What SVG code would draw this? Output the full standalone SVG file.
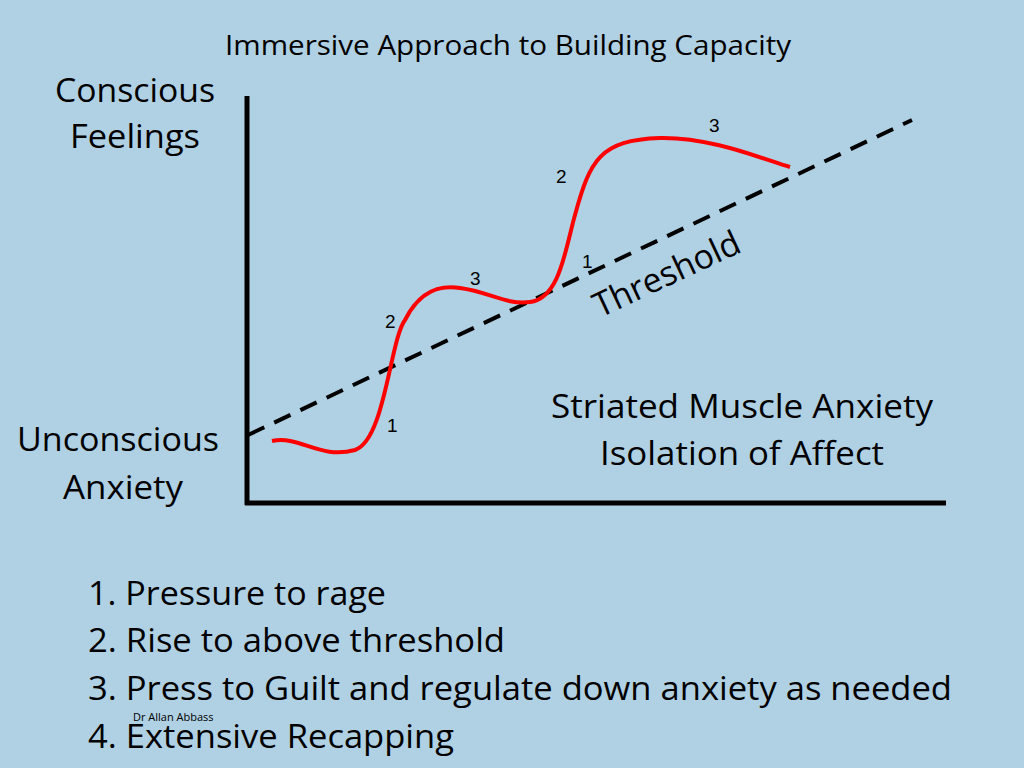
<svg xmlns="http://www.w3.org/2000/svg" width="1024" height="768" viewBox="0 0 1024 768">
<style>
.t{font-family:"Open Sans","Liberation Sans",sans-serif;fill:#000}
.n{font-family:"Liberation Sans",Arial,sans-serif;font-size:19px;fill:#000}
</style>
<rect width="1024" height="768" fill="#b0d1e3"/>
<text class="t" x="508" y="55" font-size="27" text-anchor="middle" textLength="566" lengthAdjust="spacingAndGlyphs">Immersive Approach to Building Capacity</text>
<g id="axes" stroke="#000" stroke-width="5" fill="none">
<line x1="247" y1="96" x2="247" y2="505"/>
<line x1="245" y1="503" x2="946" y2="503"/>
</g>
<g id="connectors">
<line x1="248" y1="435" x2="912" y2="120" stroke="#000" stroke-width="4" stroke-dasharray="18,11"/>
<path d="M272,441 C300,435 320,460 355,450 C385,440 390,340 405,320 C420,290 440,285 460,288 C490,292 505,305 530,302 C560,298 565,250 575,215 C590,160 600,140 660,138 C710,137 760,158 790,167" fill="none" stroke="#ff0000" stroke-width="4"/>
</g>
<text class="t" x="135" y="102" font-size="32" text-anchor="middle" textLength="160" lengthAdjust="spacingAndGlyphs">Conscious</text>
<text class="t" x="135" y="148" font-size="32" text-anchor="middle" textLength="130" lengthAdjust="spacingAndGlyphs">Feelings</text>
<text class="t" x="118" y="451" font-size="32" text-anchor="middle" textLength="202" lengthAdjust="spacingAndGlyphs">Unconscious</text>
<text class="t" x="123" y="499" font-size="32" text-anchor="middle" textLength="120" lengthAdjust="spacingAndGlyphs">Anxiety</text>
<text class="t" x="742" y="418" font-size="32" text-anchor="middle" textLength="382" lengthAdjust="spacingAndGlyphs">Striated Muscle Anxiety</text>
<text class="t" x="742" y="465" font-size="32" text-anchor="middle" textLength="284" lengthAdjust="spacingAndGlyphs">Isolation of Affect</text>
<text class="t" font-size="34" transform="translate(600,318) rotate(-25)" textLength="158" lengthAdjust="spacingAndGlyphs">Threshold</text>
<text class="n" x="387" y="432">1</text>
<text class="n" x="385" y="328">2</text>
<text class="n" x="470" y="285">3</text>
<text class="n" x="582" y="268">1</text>
<text class="n" x="556" y="183">2</text>
<text class="n" x="709" y="132">3</text>
<text class="t" x="88" y="605" font-size="32" textLength="298" lengthAdjust="spacingAndGlyphs">1. Pressure to rage</text>
<text class="t" x="88" y="652" font-size="32" textLength="417" lengthAdjust="spacingAndGlyphs">2. Rise to above threshold</text>
<text class="t" x="88" y="700" font-size="32" textLength="864" lengthAdjust="spacingAndGlyphs">3. Press to Guilt and regulate down anxiety as needed</text>
<text class="t" x="88" y="748" font-size="32" textLength="366" lengthAdjust="spacingAndGlyphs">4. Extensive Recapping</text>
<text class="t" x="133" y="721" font-size="11">Dr Allan Abbass</text>
</svg>
